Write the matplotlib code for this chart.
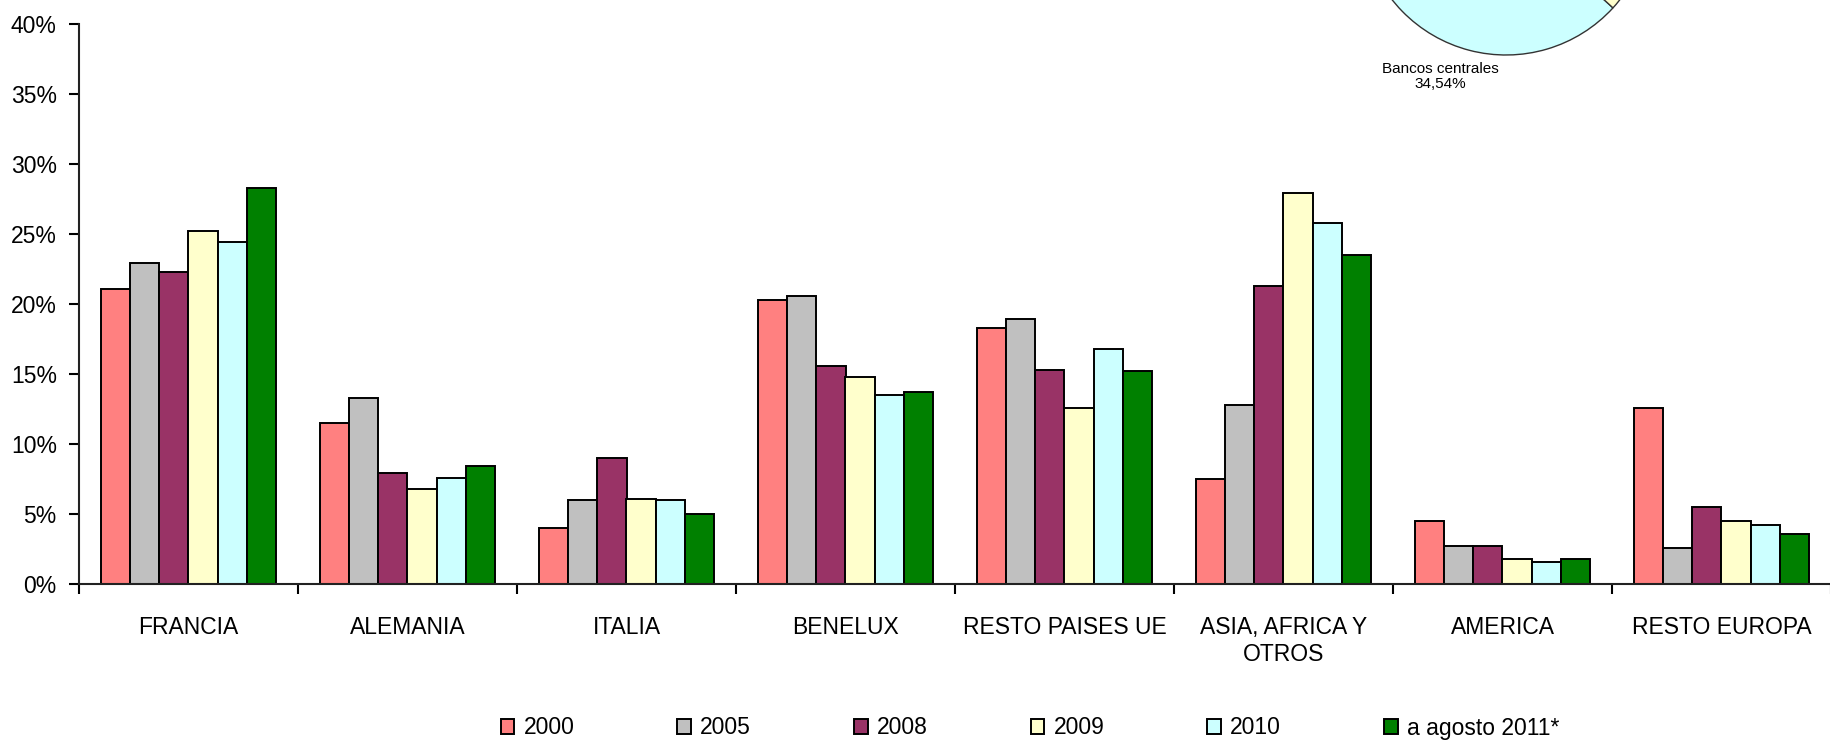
import numpy as np
import matplotlib
matplotlib.use("Agg")
import matplotlib.pyplot as plt
from matplotlib.ticker import FixedLocator, PercentFormatter

plt.rcParams['font.family'] = ['Liberation Sans', 'DejaVu Sans']

categorias = ['FRANCIA', 'ALEMANIA', 'ITALIA', 'BENELUX', 'RESTO PAISES UE',
              'ASIA, AFRICA Y\nOTROS', 'AMERICA', 'RESTO EUROPA']
series = ['2000', '2005', '2008', '2009', '2010', 'a agosto 2011*']
colores = ['#FF8080', '#C0C0C0', '#993366', '#FFFFCC', '#CCFFFF', '#008000']

v2000 = [21.1, 11.5, 4.0, 20.3, 18.3, 7.5, 4.5, 12.6]
v2005 = [22.9, 13.3, 6.0, 20.6, 18.9, 12.8, 2.7, 2.6]
v2008 = [22.3, 7.9, 9.0, 15.6, 15.3, 21.3, 2.7, 5.5]
v2009 = [25.2, 6.8, 6.1, 14.8, 12.6, 27.9, 1.8, 4.5]
v2010 = [24.4, 7.6, 6.0, 13.5, 16.8, 25.8, 1.6, 4.2]
v2011 = [28.3, 8.4, 5.0, 13.7, 15.2, 23.5, 1.8, 3.6]
valores = [v2000, v2005, v2008, v2009, v2010, v2011]

# tarta de tenedores (solo se ve el borde inferior)
tarta_etiquetas = ['Bancos centrales', '']
tarta_valores = [34.54, 65.46]
tarta_colores = ['#CCFFFF', '#FFFFCC']

W, H = 1831, 741
fig = plt.figure(figsize=(W / 100, H / 100), dpi=100)
ax = fig.add_axes([79 / W, (H - 584) / H, (W - 79) / W, 560 / H])

x = np.arange(len(categorias))
ancho = 0.8 / len(series)
barras = []
for i, (vals, col, nom) in enumerate(zip(valores, colores, series)):
    b = ax.bar(x - 0.4 + ancho * (i + 0.5), vals, ancho, color=col,
               edgecolor='black', linewidth=1.4, label=nom)
    barras.append(b)

ax.set_xlim(-0.5, len(categorias) - 0.5)
ax.set_ylim(0, 40)
ax.set_yticks(np.arange(0, 41, 5))
ax.yaxis.set_major_formatter(PercentFormatter(decimals=0))
ax.tick_params(axis='y', direction='out', length=7, width=1.5, pad=9, labelsize=16.5)

ax.xaxis.set_major_locator(FixedLocator(np.arange(-0.5, len(categorias), 1)))
ax.xaxis.set_minor_locator(FixedLocator(x))
ax.set_xticklabels([], minor=False)
ax.set_xticklabels(categorias, minor=True)
ax.tick_params(axis='x', which='major', direction='out', length=7, width=1.5)
ax.tick_params(axis='x', which='minor', length=0, pad=23, labelsize=16.5)

for s in ['top', 'right']:
    ax.spines[s].set_visible(False)
for s in ['left', 'bottom']:
    ax.spines[s].set_linewidth(1.5)
    ax.spines[s].set_color('#222222')

fig.legend(handles=barras, labels=series, loc='center',
           bbox_to_anchor=(1030 / W, (H - 728) / H), ncol=6, frameon=False,
           fontsize=16.5, handlelength=0.6, handleheight=0.6, handletextpad=0.4,
           columnspacing=4.49, borderpad=0)

# tarta cortada por el borde superior
r = 145
axp = fig.add_axes([(1506 - r) / W, (H + 90 - r) / H, 2 * r / W, 2 * r / H])
axp.pie(tarta_valores, colors=tarta_colores, startangle=193.2,
        wedgeprops=dict(edgecolor='#333333', linewidth=1.0))
axp.set_xlim(-1, 1)
axp.set_ylim(-1, 1)
axp.set_aspect('equal')
axp.axis('off')
axp.text(-0.455, -1.15, '%s\n%s' % (tarta_etiquetas[0], f'{tarta_valores[0]:.2f}%'.replace('.', ',')),
         ha='center', va='center', fontsize=11, linespacing=1.1)

fig.savefig('out.png', dpi=100)
